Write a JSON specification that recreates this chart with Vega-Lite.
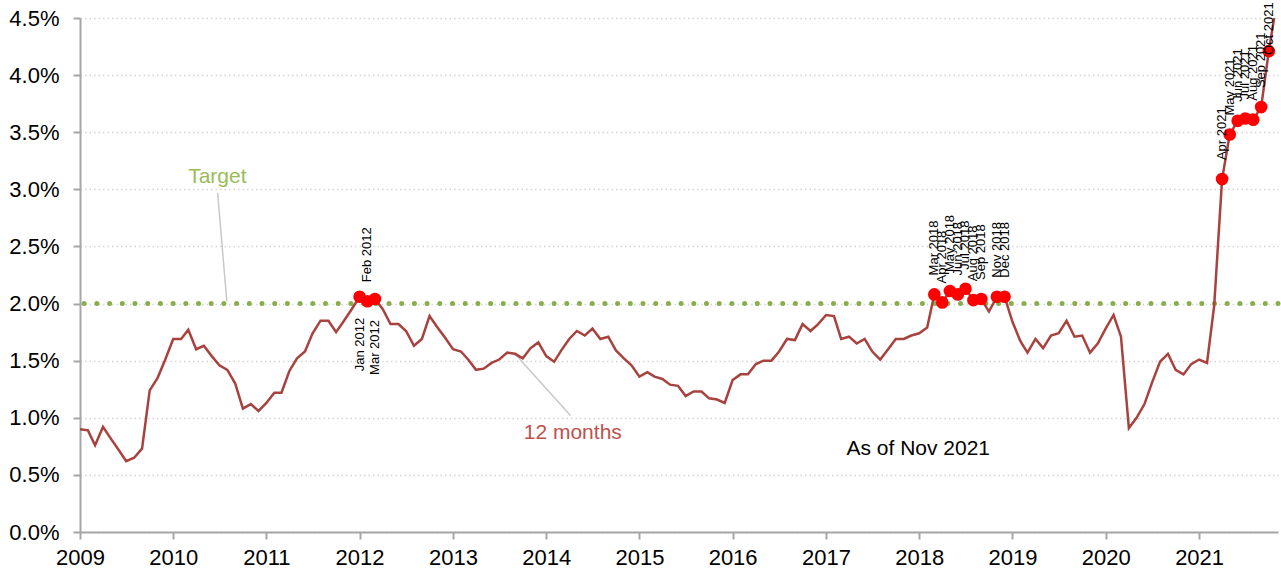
{
  "$schema": "https://vega.github.io/schema/vega-lite/v6.json",
  "width": 1198,
  "height": 514,
  "autosize": {"type": "none"},
  "padding": {"left": 80, "top": 18, "right": 3, "bottom": 45},
  "background": "white",
  "config": {
    "view": {"stroke": null},
    "axis": {
      "domainColor": "#a6a6a6",
      "domainWidth": 2,
      "tickColor": "#a6a6a6",
      "tickWidth": 2,
      "tickSize": 7,
      "labelFont": "Liberation Sans",
      "labelFontSize": 22,
      "labelColor": "#000000",
      "title": null,
      "gridColor": "#d4d4d4",
      "gridDash": [1.5, 3],
      "gridWidth": 1.5
    }
  },
  "datasets": {
    "series": [
      {"date": "2009-01-01", "value": 0.90}, {"date": "2009-02-01", "value": 0.89}, {"date": "2009-03-01", "value": 0.76}, {"date": "2009-04-01", "value": 0.92}, {"date": "2009-05-01", "value": 0.82}, {"date": "2009-06-01", "value": 0.72}, {"date": "2009-07-01", "value": 0.62}, {"date": "2009-08-01", "value": 0.65}, {"date": "2009-09-01", "value": 0.73}, {"date": "2009-10-01", "value": 1.24}, {"date": "2009-11-01", "value": 1.35}, {"date": "2009-12-01", "value": 1.51},
      {"date": "2010-01-01", "value": 1.69}, {"date": "2010-02-01", "value": 1.69}, {"date": "2010-03-01", "value": 1.77}, {"date": "2010-04-01", "value": 1.60}, {"date": "2010-05-01", "value": 1.63}, {"date": "2010-06-01", "value": 1.54}, {"date": "2010-07-01", "value": 1.46}, {"date": "2010-08-01", "value": 1.42}, {"date": "2010-09-01", "value": 1.30}, {"date": "2010-10-01", "value": 1.08}, {"date": "2010-11-01", "value": 1.12}, {"date": "2010-12-01", "value": 1.06},
      {"date": "2011-01-01", "value": 1.13}, {"date": "2011-02-01", "value": 1.22}, {"date": "2011-03-01", "value": 1.22}, {"date": "2011-04-01", "value": 1.41}, {"date": "2011-05-01", "value": 1.52}, {"date": "2011-06-01", "value": 1.58}, {"date": "2011-07-01", "value": 1.74}, {"date": "2011-08-01", "value": 1.85}, {"date": "2011-09-01", "value": 1.85}, {"date": "2011-10-01", "value": 1.75}, {"date": "2011-11-01", "value": 1.85}, {"date": "2011-12-01", "value": 1.95},
      {"date": "2012-01-01", "value": 2.06}, {"date": "2012-02-01", "value": 2.02}, {"date": "2012-03-01", "value": 2.04}, {"date": "2012-04-01", "value": 1.95}, {"date": "2012-05-01", "value": 1.82}, {"date": "2012-06-01", "value": 1.82}, {"date": "2012-07-01", "value": 1.76}, {"date": "2012-08-01", "value": 1.63}, {"date": "2012-09-01", "value": 1.69}, {"date": "2012-10-01", "value": 1.89}, {"date": "2012-11-01", "value": 1.79}, {"date": "2012-12-01", "value": 1.70},
      {"date": "2013-01-01", "value": 1.60}, {"date": "2013-02-01", "value": 1.58}, {"date": "2013-03-01", "value": 1.51}, {"date": "2013-04-01", "value": 1.42}, {"date": "2013-05-01", "value": 1.43}, {"date": "2013-06-01", "value": 1.48}, {"date": "2013-07-01", "value": 1.51}, {"date": "2013-08-01", "value": 1.57}, {"date": "2013-09-01", "value": 1.56}, {"date": "2013-10-01", "value": 1.52}, {"date": "2013-11-01", "value": 1.61}, {"date": "2013-12-01", "value": 1.66},
      {"date": "2014-01-01", "value": 1.54}, {"date": "2014-02-01", "value": 1.49}, {"date": "2014-03-01", "value": 1.59}, {"date": "2014-04-01", "value": 1.69}, {"date": "2014-05-01", "value": 1.76}, {"date": "2014-06-01", "value": 1.72}, {"date": "2014-07-01", "value": 1.78}, {"date": "2014-08-01", "value": 1.69}, {"date": "2014-09-01", "value": 1.71}, {"date": "2014-10-01", "value": 1.59}, {"date": "2014-11-01", "value": 1.52}, {"date": "2014-12-01", "value": 1.46},
      {"date": "2015-01-01", "value": 1.36}, {"date": "2015-02-01", "value": 1.40}, {"date": "2015-03-01", "value": 1.36}, {"date": "2015-04-01", "value": 1.34}, {"date": "2015-05-01", "value": 1.29}, {"date": "2015-06-01", "value": 1.28}, {"date": "2015-07-01", "value": 1.19}, {"date": "2015-08-01", "value": 1.23}, {"date": "2015-09-01", "value": 1.23}, {"date": "2015-10-01", "value": 1.17}, {"date": "2015-11-01", "value": 1.16}, {"date": "2015-12-01", "value": 1.13},
      {"date": "2016-01-01", "value": 1.33}, {"date": "2016-02-01", "value": 1.38}, {"date": "2016-03-01", "value": 1.38}, {"date": "2016-04-01", "value": 1.47}, {"date": "2016-05-01", "value": 1.50}, {"date": "2016-06-01", "value": 1.50}, {"date": "2016-07-01", "value": 1.58}, {"date": "2016-08-01", "value": 1.69}, {"date": "2016-09-01", "value": 1.68}, {"date": "2016-10-01", "value": 1.82}, {"date": "2016-11-01", "value": 1.76}, {"date": "2016-12-01", "value": 1.82},
      {"date": "2017-01-01", "value": 1.90}, {"date": "2017-02-01", "value": 1.89}, {"date": "2017-03-01", "value": 1.69}, {"date": "2017-04-01", "value": 1.71}, {"date": "2017-05-01", "value": 1.65}, {"date": "2017-06-01", "value": 1.69}, {"date": "2017-07-01", "value": 1.58}, {"date": "2017-08-01", "value": 1.51}, {"date": "2017-09-01", "value": 1.60}, {"date": "2017-10-01", "value": 1.69}, {"date": "2017-11-01", "value": 1.69}, {"date": "2017-12-01", "value": 1.72},
      {"date": "2018-01-01", "value": 1.74}, {"date": "2018-02-01", "value": 1.79}, {"date": "2018-03-01", "value": 2.08}, {"date": "2018-04-01", "value": 2.01}, {"date": "2018-05-01", "value": 2.11}, {"date": "2018-06-01", "value": 2.08}, {"date": "2018-07-01", "value": 2.13}, {"date": "2018-08-01", "value": 2.03}, {"date": "2018-09-01", "value": 2.04}, {"date": "2018-10-01", "value": 1.93}, {"date": "2018-11-01", "value": 2.06}, {"date": "2018-12-01", "value": 2.06},
      {"date": "2019-01-01", "value": 1.84}, {"date": "2019-02-01", "value": 1.67}, {"date": "2019-03-01", "value": 1.57}, {"date": "2019-04-01", "value": 1.69}, {"date": "2019-05-01", "value": 1.61}, {"date": "2019-06-01", "value": 1.72}, {"date": "2019-07-01", "value": 1.74}, {"date": "2019-08-01", "value": 1.85}, {"date": "2019-09-01", "value": 1.71}, {"date": "2019-10-01", "value": 1.72}, {"date": "2019-11-01", "value": 1.57}, {"date": "2019-12-01", "value": 1.65},
      {"date": "2020-01-01", "value": 1.78}, {"date": "2020-02-01", "value": 1.90}, {"date": "2020-03-01", "value": 1.71}, {"date": "2020-04-01", "value": 0.91}, {"date": "2020-05-01", "value": 1.00}, {"date": "2020-06-01", "value": 1.12}, {"date": "2020-07-01", "value": 1.31}, {"date": "2020-08-01", "value": 1.49}, {"date": "2020-09-01", "value": 1.56}, {"date": "2020-10-01", "value": 1.42}, {"date": "2020-11-01", "value": 1.38}, {"date": "2020-12-01", "value": 1.47},
      {"date": "2021-01-01", "value": 1.51}, {"date": "2021-02-01", "value": 1.48}, {"date": "2021-03-01", "value": 1.98}, {"date": "2021-04-01", "value": 3.09}, {"date": "2021-05-01", "value": 3.48}, {"date": "2021-06-01", "value": 3.60}, {"date": "2021-07-01", "value": 3.62}, {"date": "2021-08-01", "value": 3.61}, {"date": "2021-09-01", "value": 3.72}, {"date": "2021-10-01", "value": 4.21}, {"date": "2021-11-01", "value": 4.64}
    ]
  },
  "encoding": {
    "x": {
      "field": "date",
      "type": "temporal",
      "scale": {
        "type": "utc",
        "domain": [
          {"year": 2009, "month": 1, "date": 1, "utc": true},
          {"year": 2021, "month": 11, "date": 6, "utc": true}
        ]
      },
      "axis": {
        "format": "%Y",
        "tickCount": {"interval": "year", "step": 1},
        "labelPadding": 8,
        "grid": false,
        "labelFlush": false,
        "labelOverlap": false
      }
    },
    "y": {
      "field": "value",
      "type": "quantitative",
      "scale": {"domain": [0, 4.5], "nice": false},
      "axis": {
        "values": [0, 0.5, 1, 1.5, 2, 2.5, 3, 3.5, 4, 4.5],
        "labelExpr": "format(datum.value, '.1f') + '%'",
        "labelPadding": 14,
        "grid": true
      }
    }
  },
  "layer": [
    {
      "data": {"values": [{"value": 2}]},
      "mark": {"type": "rule", "color": "#8aad4c", "strokeWidth": 5, "strokeDash": [0, 12.7], "strokeCap": "round"},
      "encoding": {"x": null, "y": {"field": "value", "type": "quantitative"}}
    },
    {
      "data": {"values": [
        {"date": "2010-06-24", "value": 2.97, "date2": "2010-07-30", "value2": 2.02},
        {"date": "2013-08-31", "value": 1.56, "date2": "2014-04-06", "value2": 1.02}
      ]},
      "mark": {"type": "rule", "color": "#c8c8c8", "strokeWidth": 1.5},
      "encoding": {
        "x2": {"field": "date2"},
        "y2": {"field": "value2"}
      }
    },
    {
      "data": {"name": "series"},
      "mark": {"type": "line", "color": "#a8423f", "strokeWidth": 2.5, "clip": true},
      "encoding": {}
    },
    {
      "data": {"name": "series"},
      "transform": [{"filter": "datum.value > 2 && datum.value < 4.5"}],
      "mark": {"type": "circle", "color": "#ff0000", "size": 160, "opacity": 1},
      "encoding": {}
    },
    {
      "data": {"name": "series"},
      "transform": [
        {"filter": "datum.value > 2 && datum.value < 4"},
        {"filter": "!(utcyear(toDate(datum.date)) == 2012 && utcmonth(toDate(datum.date)) != 1)"}
      ],
      "mark": {"type": "text", "angle": 270, "align": "left", "baseline": "middle", "dx": 19, "font": "Liberation Sans", "fontSize": 13, "color": "#000000"},
      "encoding": {
        "text": {"field": "date", "type": "temporal", "timeUnit": "utcyearmonth", "format": "%b %Y"}
      }
    },
    {
      "data": {"name": "series"},
      "transform": [
        {"filter": "datum.value > 4 && datum.value < 4.5"}
      ],
      "mark": {"type": "text", "angle": 270, "align": "left", "baseline": "middle", "dx": -4, "font": "Liberation Sans", "fontSize": 13, "color": "#000000"},
      "encoding": {
        "text": {"field": "date", "type": "temporal", "timeUnit": "utcyearmonth", "format": "%b %Y"}
      }
    },
    {
      "data": {"name": "series"},
      "transform": [
        {"filter": "datum.value > 2 && datum.value < 4.5"},
        {"filter": "utcyear(toDate(datum.date)) == 2012 && utcmonth(toDate(datum.date)) != 1"}
      ],
      "mark": {"type": "text", "angle": 270, "align": "right", "baseline": "middle", "dx": -21, "font": "Liberation Sans", "fontSize": 13, "color": "#000000"},
      "encoding": {
        "text": {"field": "date", "type": "temporal", "timeUnit": "utcyearmonth", "format": "%b %Y"}
      }
    },
    {
      "data": {"values": [{"date": "2010-06-23", "value": 3.11, "label": "Target"}]},
      "mark": {"type": "text", "font": "Liberation Sans", "fontSize": 21, "color": "#9bbb59", "baseline": "middle"},
      "encoding": {"text": {"field": "label"}}
    },
    {
      "data": {"values": [{"date": "2014-04-15", "value": 0.87, "label": "12 months"}]},
      "mark": {"type": "text", "font": "Liberation Sans", "fontSize": 21, "color": "#c0504d", "baseline": "middle"},
      "encoding": {"text": {"field": "label"}}
    },
    {
      "data": {"values": [{"date": "2017-12-28", "value": 0.73, "label": "As of Nov 2021"}]},
      "mark": {"type": "text", "font": "Liberation Sans", "fontSize": 21, "color": "#000000", "baseline": "middle"},
      "encoding": {"text": {"field": "label"}}
    }
  ]
}
